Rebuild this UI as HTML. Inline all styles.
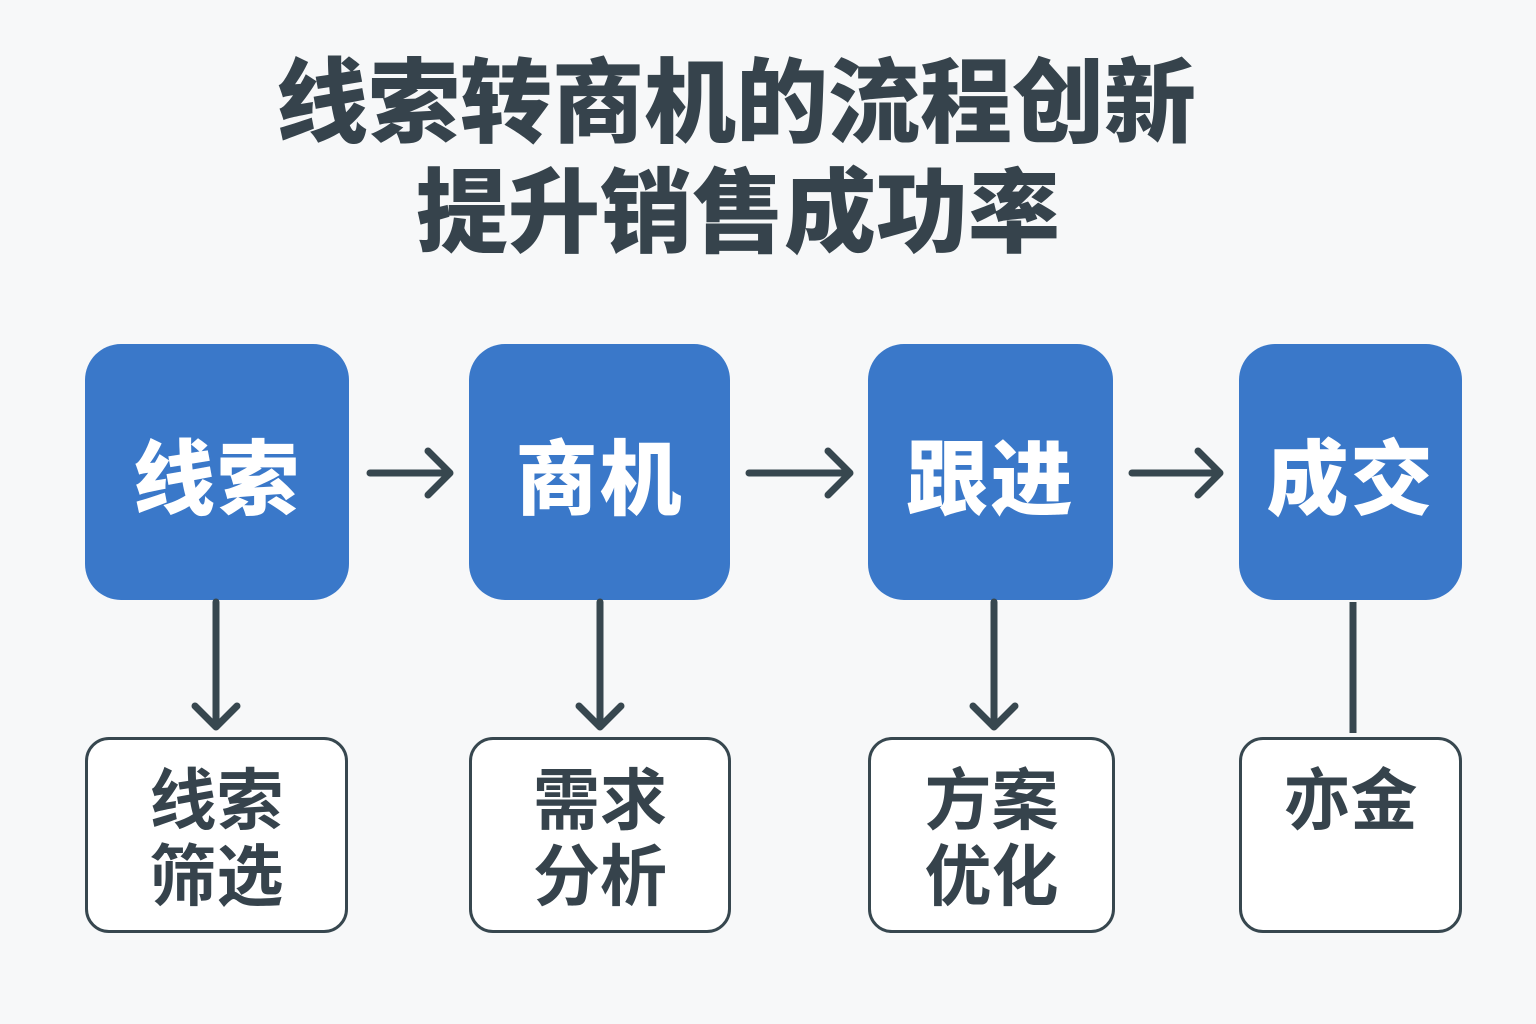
<!DOCTYPE html>
<html><head><meta charset="utf-8"><style>
body{margin:0;width:1536px;height:1024px;background:#f7f8f9;position:relative;overflow:hidden;font-family:"Liberation Sans","Noto Sans CJK SC",sans-serif;}
.t{position:absolute;width:1536px;text-align:center;font-weight:900;color:#36434c;font-size:92px;line-height:1;}
.b{position:absolute;top:344px;height:256px;background:#3a78c9;border-radius:36px;color:#fff;font-weight:900;font-size:82px;display:flex;align-items:center;justify-content:center;letter-spacing:2px}
.s{position:absolute;top:737px;height:196px;border:3px solid #37474f;border-radius:24px;background:#fff;color:#36434c;font-weight:700;font-size:67px;line-height:76px;text-align:center;padding-top:24px;box-sizing:border-box}
svg{position:absolute;left:0;top:0}
</style></head><body>
<div class="t" style="top:58px;left:-32px">线索转商机的流程创新</div>
<div class="t" style="top:168px;left:-30px">提升销售成功率</div>
<div class="b" style="left:85px;width:264px">线索</div>
<div class="b" style="left:469px;width:261px">商机</div>
<div class="b" style="left:868px;width:245px">跟进</div>
<div class="b" style="left:1239px;width:223px">成交</div>
<div class="s" style="left:85px;width:263px">线索<br>筛选</div>
<div class="s" style="left:469px;width:262px">需求<br>分析</div>
<div class="s" style="left:868px;width:247px">方案<br>优化</div>
<div class="s" style="left:1239px;width:223px">亦金</div>
<svg width="1536" height="1024" fill="none" stroke="#37474f" stroke-width="7" stroke-linecap="round" stroke-linejoin="round">
<path d="M370 473H448M428 451L450 473L428 495"/>
<path d="M749 473H848M828 451L850 473L828 495"/>
<path d="M1132 473H1218M1198 451L1220 473L1198 495"/>
<path d="M216 602V727M195 706L216 727L237 706"/>
<path d="M600 602V727M579 706L600 727L621 706"/>
<path d="M994 602V727M973 706L994 727L1015 706"/>
<path d="M1353 602V733" stroke-linecap="butt"/>
</svg>
</body></html>
